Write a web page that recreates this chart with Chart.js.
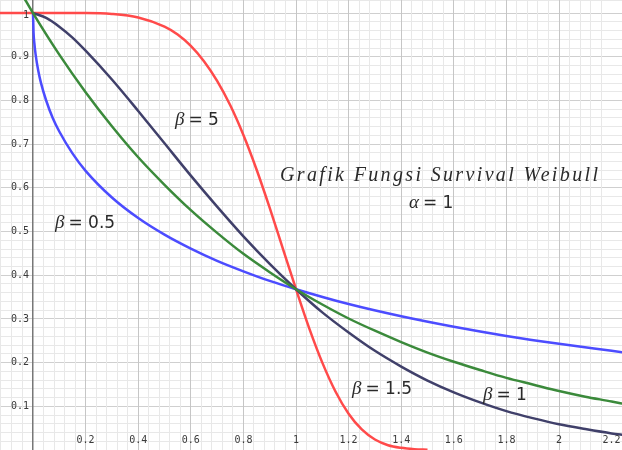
<!DOCTYPE html>
<html>
<head>
<meta charset="utf-8">
<script src="https://cdn.jsdelivr.net/npm/chart.js@4.4.0/dist/chart.umd.min.js"></script>
<style>
  html, body { margin: 0; padding: 0; background: #fff; }
  #wrap { width: 622px; height: 450px; }
</style>
</head>
<body>
<div id="wrap"><canvas id="chart" width="622" height="450"></canvas></div>
<script>
// values (survival S(t), alpha = 1)
const tHalf = [0, 0.002, 0.005, 0.01, 0.02, 0.03, 0.05, 0.075, 0.1, 0.15, 0.2, 0.3, 0.4, 0.5, 0.6, 0.7, 0.8, 0.9, 1.0, 1.2, 1.4, 1.6, 1.8, 2.0, 2.2, 2.25];
const sHalf = [1, 0.956, 0.932, 0.905, 0.868, 0.841, 0.800, 0.760, 0.729, 0.679, 0.639, 0.578, 0.531, 0.493, 0.461, 0.433, 0.409, 0.387, 0.368, 0.334, 0.306, 0.282, 0.261, 0.243, 0.227, 0.223];

const tOne = [-0.04, 0, 0.1, 0.2, 0.3, 0.4, 0.5, 0.6, 0.7, 0.8, 0.9, 1.0, 1.1, 1.2, 1.3, 1.4, 1.5, 1.6, 1.7, 1.8, 1.9, 2.0, 2.1, 2.2, 2.25];
const sOne = [1.041, 1, 0.905, 0.819, 0.741, 0.670, 0.607, 0.549, 0.497, 0.449, 0.407, 0.368, 0.333, 0.301, 0.273, 0.247, 0.223, 0.202, 0.183, 0.165, 0.150, 0.135, 0.122, 0.111, 0.105];

const tOneHalf = [0, 0.05, 0.1, 0.15, 0.2, 0.3, 0.4, 0.5, 0.6, 0.7, 0.8, 0.9, 1.0, 1.1, 1.2, 1.3, 1.4, 1.5, 1.6, 1.7, 1.8, 1.9, 2.0, 2.1, 2.2, 2.25];
const sOneHalf = [1, 0.989, 0.969, 0.944, 0.914, 0.848, 0.776, 0.702, 0.628, 0.557, 0.489, 0.426, 0.368, 0.315, 0.269, 0.227, 0.191, 0.159, 0.132, 0.109, 0.089, 0.073, 0.059, 0.048, 0.038, 0.034];

const tFive = [-0.13, 0, 0.2, 0.3, 0.4, 0.5, 0.55, 0.6, 0.65, 0.7, 0.75, 0.8, 0.85, 0.9, 0.95, 1.0, 1.05, 1.1, 1.15, 1.2, 1.25, 1.3, 1.35, 1.4, 1.45, 1.5];
const sFive = [1, 1, 1, 0.998, 0.990, 0.969, 0.951, 0.925, 0.890, 0.845, 0.789, 0.721, 0.642, 0.554, 0.461, 0.368, 0.279, 0.200, 0.134, 0.083, 0.047, 0.024, 0.011, 0.005, 0.002, 0.0005];

const xTickLabels = ['0.2', '0.4', '0.6', '0.8', '1', '1.2', '1.4', '1.6', '1.8', '2', '2.2'];
const yTickLabels = ['0.1', '0.2', '0.3', '0.4', '0.5', '0.6', '0.7', '0.8', '0.9', '1'];

const pts = (xs, ys) => xs.map((x, i) => ({ x: x, y: ys[i] }));

function isMajor(v, step) {
  const r = v / step;
  return Math.abs(r - Math.round(r)) < 1e-6;
}

// tick labels and annotations drawn inside the plot, GeoGebra style
const labelsPlugin = {
  id: 'labels',
  afterDraw(chart) {
    const c = chart.ctx;
    const xs = chart.scales.x, ys = chart.scales.y;
    c.save();
    c.fillStyle = '#3a3a3a';
    c.font = '10px "DejaVu Sans Mono"';
    c.textBaseline = 'middle';
    c.textAlign = 'center';
    xTickLabels.forEach(l => {
      c.fillText(l, xs.getPixelForValue(parseFloat(l)), 440);
    });
    c.textAlign = 'right';
    yTickLabels.forEach(l => {
      const v = parseFloat(l);
      c.fillText(l, 29, ys.getPixelForValue(v) + (v === 1 ? 2 : 0));
    });

    // title, stretched like math-mode text
    c.fillStyle = '#2a2a2a';
    c.textBaseline = 'alphabetic';
    c.textAlign = 'left';
    const title = 'Grafik Fungsi Survival Weibull';
    c.font = 'italic 20px "Liberation Serif"';
    const w0 = c.measureText(title).width;
    c.letterSpacing = Math.max(0, (318 - w0) / (title.length - 1)).toFixed(2) + 'px';
    c.fillText(title, 280, 181);
    c.letterSpacing = '0px';

    const mathLabel = (greek, rest, x, y) => {
      c.font = 'italic 19px "Liberation Serif"';
      c.fillText(greek, x, y);
      const gw = c.measureText(greek).width;
      c.font = '17px "DejaVu Sans"';
      c.fillText(rest, x + gw + 4, y);
    };
    mathLabel('α', '= 1', 409, 208);
    mathLabel('β', '= 5', 175, 125);
    mathLabel('β', '= 0.5', 55, 228);
    mathLabel('β', '= 1.5', 352, 394);
    mathLabel('β', '= 1', 483, 400);
    c.restore();
  }
};

const line = (data, color) => ({
  data: data,
  borderColor: color,
  borderWidth: 2.5,
  pointRadius: 0,
  fill: false,
  cubicInterpolationMode: 'monotone'
});

new Chart(document.getElementById('chart'), {
  type: 'line',
  data: {
    datasets: [
      line(pts(tOne, sOne), '#3b8a3b'),
      line(pts(tOneHalf, sOneHalf), '#40406a'),
      line(pts(tHalf, sHalf), '#4c4cff'),
      line(pts(tFive, sFive), '#ff4a4a')
    ]
  },
  options: {
    responsive: false,
    animation: false,
    events: [],
    layout: { padding: 0 },
    plugins: { legend: { display: false }, tooltip: { enabled: false } },
    scales: {
      x: {
        type: 'linear',
        min: -0.1255,
        max: 2.2395,
        ticks: { display: false, stepSize: 0.04, autoSkip: false },
        border: { display: false },
        grid: {
          z: -1,
          drawTicks: false,
          color: ctx => {
            const v = ctx.tick.value;
            if (Math.abs(v) < 1e-6) return '#777';
            return isMajor(v, 0.2) ? '#c6c6c6' : '#e8e8e8';
          },
          lineWidth: ctx => (Math.abs(ctx.tick.value) < 1e-6 ? 1.5 : 1)
        }
      },
      y: {
        type: 'linear',
        min: 0,
        max: 1.03,
        ticks: { display: false, stepSize: 0.02, autoSkip: false },
        border: { display: false },
        grid: {
          z: -2,
          drawTicks: false,
          color: ctx => {
            const v = ctx.tick.value;
            if (Math.abs(v) < 1e-6) return '#777';
            return isMajor(v, 0.1) ? '#cfcfcf' : '#e8e8e8';
          }
        }
      }
    }
  },
  plugins: [labelsPlugin]
});
</script>
</body>
</html>
